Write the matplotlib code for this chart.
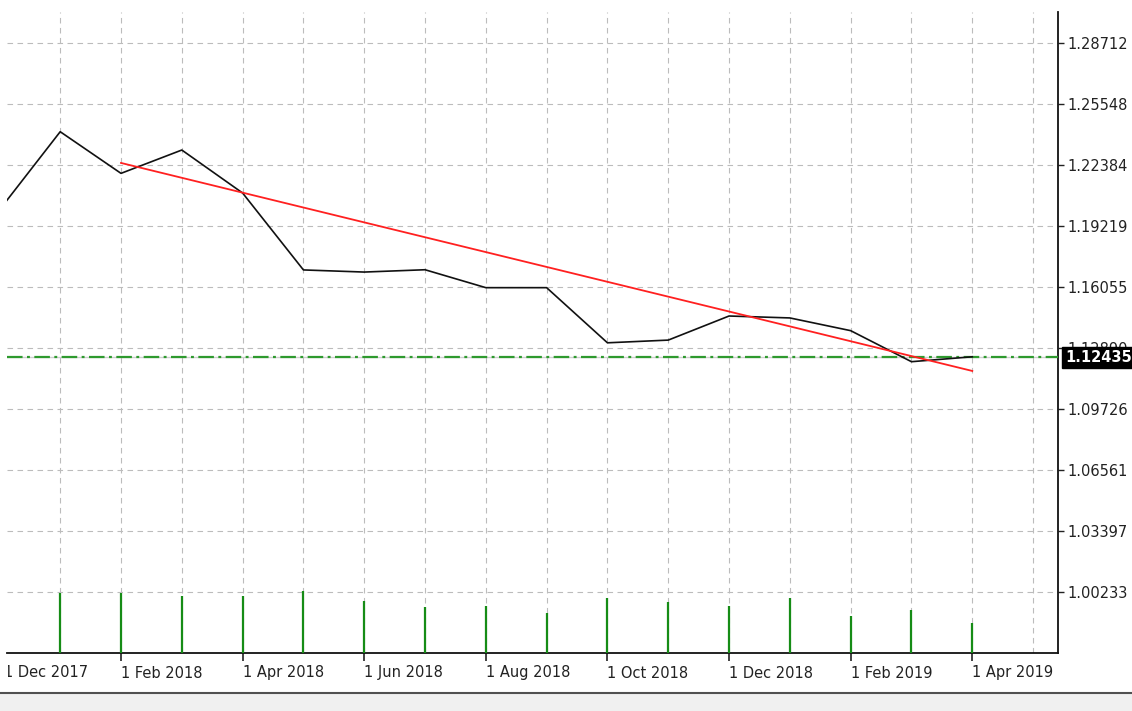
import matplotlib
matplotlib.use("Agg")
import matplotlib.pyplot as plt
from matplotlib.patches import Rectangle
from matplotlib.lines import Line2D
from matplotlib.transforms import Bbox

# ---- data ----
months = ["Dec 2017", "Jan 2018", "Feb 2018", "Mar 2018", "Apr 2018", "May 2018",
          "Jun 2018", "Jul 2018", "Aug 2018", "Sep 2018", "Oct 2018", "Nov 2018",
          "Dec 2018", "Jan 2019", "Feb 2019", "Mar 2019", "Apr 2019"]
closes = [1.2005, 1.2411, 1.2195, 1.2316, 1.2093, 1.1694, 1.1683, 1.1695, 1.1602,
          1.1602, 1.1316, 1.1330, 1.1455, 1.1445, 1.1379, 1.1218, 1.12435]
vol_months = list(range(1, 17))
volumes = [2412, 2412, 2280, 2280, 2480, 2092, 1840, 1892, 1600, 2200, 2040, 1892,
           2200, 1492, 1720, 1188]
trend_x = [2, 16]
trend_y = [1.2249, 1.1170]
current_price = 1.12435
y_ticks = [1.00233, 1.03397, 1.06561, 1.09726, 1.12890, 1.16055, 1.19219,
           1.22384, 1.25548, 1.28712]
x_tick_pos = [2, 4, 6, 8, 10, 12, 14, 16]
x_tick_labels = ["1 Feb 2018", "1 Apr 2018", "1 Jun 2018", "1 Aug 2018",
                 "1 Oct 2018", "1 Dec 2018", "1 Feb 2019", "1 Apr 2019"]
first_label_pos = 0
first_label = "1 Dec 2017"

W, H = 1132, 711
plt.rcParams['font.family'] = ['DejaVu Sans']
fig = plt.figure(figsize=(W / 100, H / 100), dpi=100)
fig.patch.set_facecolor('white')

L, R, T, B = 7, 1058, 12, 653
rect = [L / W, 1 - B / H, (R - L) / W, (B - T) / H]
ax = fig.add_axes(rect)
ax.set_facecolor('white')

xlim = (0.125, 17.41)
ax.set_xlim(*xlim)
ax.set_ylim(0.97069, 1.30320)

grid_kw = dict(color='#bcbcbc', linestyle=(0, (5, 4)), linewidth=0.8)
ax.set_xticks(x_tick_pos)
ax.set_xticklabels(x_tick_labels, ha='left')
ax.set_xticks(list(range(1, 18)), minor=True)
ax.set_yticks(y_ticks)
ax.set_yticklabels([f"{v:.5f}" for v in y_ticks])
ax.grid(True, which='both', **grid_kw)
ax.set_axisbelow(True)

ax.yaxis.tick_right()
ax.tick_params(axis='y', direction='out', length=4, width=1, pad=3,
               labelsize=10.5, labelcolor='#222222', colors='#222222')
ax.tick_params(axis='x', which='major', direction='out', length=6, width=1.2, pad=3,
               labelsize=10.5, labelcolor='#222222', colors='#222222')
ax.tick_params(axis='x', which='minor', length=0)

# partially cut first date label (its tick lies left of the visible range)
t = ax.annotate(first_label, xy=(first_label_pos, 0), xycoords=('data', 'axes fraction'),
                xytext=(4.6, -12), textcoords='offset pixels', ha='left', va='top',
                fontsize=10.5, color='#222222', annotation_clip=False)
t.set_clip_on(True)
t.set_clip_box(Bbox.from_extents(8, 0, 300, H))

for s in ['top', 'left']:
    ax.spines[s].set_visible(False)
for s in ['right', 'bottom']:
    ax.spines[s].set_color('#111111')
    ax.spines[s].set_linewidth(1.3)

# current price lines
ax.axhline(current_price, color='#cfcfcf', lw=1.0, zorder=2)
ax.axhline(current_price, color='#2e9a2e', lw=1.6, linestyle=(0, (7, 2.0, 1.3, 2.0)), zorder=3)

# price line
ax.plot(range(len(closes)), closes, color='#111111', lw=1.2, zorder=4)
# trend line
ax.plot(trend_x, trend_y, color='#ff2020', lw=1.3, zorder=5)

# price box
ax.annotate(f"{current_price:.5f}", xy=(1, current_price),
            xycoords=('axes fraction', 'data'), xytext=(5, -0.5), textcoords='offset points',
            ha='left', va='center', color='white', fontweight='bold', fontsize=10.5,
            bbox=dict(boxstyle='square,pad=0.2', fc='black', ec='black'),
            annotation_clip=False, zorder=10)

# volume axes (bars drawn above the grid)
vax = fig.add_axes(rect, sharex=ax)
vax.patch.set_alpha(0)
vax.vlines(vol_months, 0, volumes, color='#168c16', lw=1.6)
vax.set_ylim(0, 25640)
vax.set_xlim(*xlim)
vax.axis('off')

# bottom status band
fig.patches.append(Rectangle((0, 0), 1, (H - 693) / H, transform=fig.transFigure,
                             facecolor='#f0f0f0', edgecolor='none'))
fig.lines.append(Line2D([0, 1], [1 - 692.5 / H] * 2, transform=fig.transFigure,
                        color='#505050', lw=1.5))

fig.savefig('out.png', dpi=100)
